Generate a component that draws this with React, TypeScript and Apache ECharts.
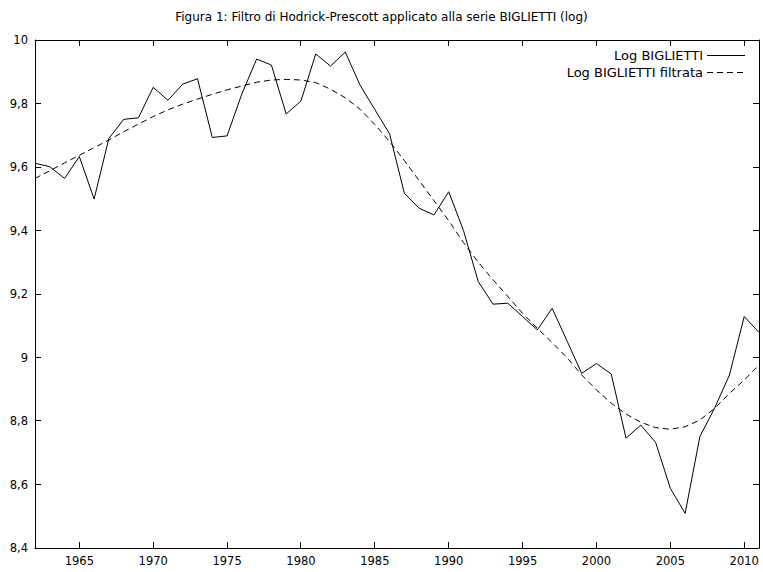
import React, { useEffect, useRef } from "react";
import * as echarts from "echarts";

const years: number[] = [
  1962, 1963, 1964, 1965, 1966, 1967, 1968, 1969, 1970, 1971,
  1972, 1973, 1974, 1975, 1976, 1977, 1978, 1979, 1980, 1981,
  1982, 1983, 1984, 1985, 1986, 1987, 1988, 1989, 1990, 1991,
  1992, 1993, 1994, 1995, 1996, 1997, 1998, 1999, 2000, 2001,
  2002, 2003, 2004, 2005, 2006, 2007, 2008, 2009, 2010, 2011,
];

const logBiglietti: number[] = [
  9.612, 9.601, 9.564, 9.633, 9.499, 9.69, 9.75, 9.755, 9.851, 9.81,
  9.861, 9.878, 9.693, 9.698, 9.83, 9.94, 9.921, 9.767, 9.808, 9.956,
  9.918, 9.962, 9.858, 9.781, 9.704, 9.517, 9.47, 9.449, 9.522, 9.4,
  9.239, 9.168, 9.171, 9.129, 9.087, 9.155, 9.053, 8.95, 8.981, 8.948,
  8.746, 8.787, 8.733, 8.588, 8.509, 8.751, 8.841, 8.945, 9.129, 9.079,
];

const logBigliettiFiltrata: number[] = [
  9.564, 9.588, 9.613, 9.637, 9.661, 9.685, 9.711, 9.735, 9.759, 9.78,
  9.798, 9.814, 9.829, 9.843, 9.855, 9.867, 9.874, 9.876, 9.874, 9.866,
  9.845, 9.818, 9.782, 9.734, 9.68, 9.62, 9.557, 9.494, 9.431, 9.362,
  9.3, 9.245, 9.192, 9.139, 9.092, 9.047, 9.0, 8.945, 8.898, 8.856,
  8.822, 8.796, 8.779, 8.774, 8.782, 8.803, 8.84, 8.887, 8.929, 8.976,
];

const xTicks: number[] = [1965, 1970, 1975, 1980, 1985, 1990, 1995, 2000, 2005, 2010];
const yTicks: number[] = [8.6, 8.8, 9, 9.2, 9.4, 9.6, 9.8];

const titleText = "Figura 1: Filtro di Hodrick-Prescott applicato alla serie BIGLIETTI (log)";
const seriesNames: string[] = ["Log BIGLIETTI", "Log BIGLIETTI filtrata"];

const FONT = "DejaVu Sans, Verdana, sans-serif";
const X_MIN = 1962;
const X_MAX = 2011;
const Y_MIN = 8.4;
const Y_MAX = 10;
const TICK = 6;

export default function App() {
  const ref = useRef<HTMLDivElement>(null);

  useEffect(() => {
    if (!ref.current) return;
    const chart = echarts.init(ref.current, undefined, { renderer: "svg" });
    const fmtY = (v: number) => String(Math.round(v * 10) / 10).replace(".", ",");
    const axisLine = { show: true, lineStyle: { color: "#000", width: 1 } };
    const crisp = (v: number) => Math.floor(v) + 0.5;

    // tick marks: x ticks on bottom/top, y ticks on left/right, drawn via a custom series
    const tickData: number[][] = [
      ...xTicks.map((t) => [0, t]),
      ...yTicks.map((t) => [1, t]),
    ];

    chart.setOption({
      animation: false,
      backgroundColor: "#fff",
      title: {
        text: titleText,
        left: "center",
        top: 6,
        textStyle: { fontFamily: FONT, fontSize: 12, fontWeight: "normal", color: "#000" },
      },
      grid: { left: 35, top: 40, right: 4, bottom: 24, containLabel: false },
      xAxis: [
        {
          type: "value",
          min: X_MIN,
          max: X_MAX,
          position: "bottom",
          axisLine,
          splitLine: { show: false },
          axisTick: { show: false },
          axisLabel: {
            show: true,
            customValues: xTicks,
            formatter: (v: number) => String(v),
            margin: 7,
            fontFamily: FONT,
            fontSize: 11.5,
            color: "#000",
          },
        },
        {
          type: "value",
          min: X_MIN,
          max: X_MAX,
          position: "top",
          axisLine,
          splitLine: { show: false },
          axisTick: { show: false },
          axisLabel: { show: false },
        },
      ],
      yAxis: [
        {
          type: "value",
          min: Y_MIN,
          max: Y_MAX,
          interval: 0.2,
          position: "left",
          axisLine,
          splitLine: { show: false },
          axisTick: { show: false },
          axisLabel: {
            formatter: fmtY,
            margin: 7,
            fontFamily: FONT,
            fontSize: 11.5,
            color: "#000",
          },
        },
        {
          type: "value",
          min: Y_MIN,
          max: Y_MAX,
          interval: 0.2,
          position: "right",
          axisLine,
          splitLine: { show: false },
          axisTick: { show: false },
          axisLabel: { show: false },
        },
      ],
      series: [
        {
          name: "ticks",
          type: "custom",
          xAxisIndex: 0,
          yAxisIndex: 0,
          coordinateSystem: "cartesian2d",
          data: tickData,
          encode: { x: -1, y: -1 } as any,
          silent: true,
          clip: false,
          renderItem: (params: any, api: any) => {
            const kind = api.value(0);
            const v = api.value(1);
            let a: number[], b: number[], c: number[], d: number[];
            if (kind === 0) {
              const p = api.coord([v, Y_MIN]);
              const q = api.coord([v, Y_MAX]);
              const x = crisp(p[0]);
              a = [x, p[1]]; b = [x, p[1] - TICK];
              c = [x, q[1]]; d = [x, q[1] + TICK];
            } else {
              const p = api.coord([X_MIN, v]);
              const q = api.coord([X_MAX, v]);
              const y = crisp(p[1]);
              a = [p[0], y]; b = [p[0] + TICK, y];
              c = [q[0], y]; d = [q[0] - TICK, y];
            }
            return {
              type: "group",
              children: [
                { type: "line", shape: { x1: a[0], y1: a[1], x2: b[0], y2: b[1] }, style: { stroke: "#000", lineWidth: 1 } },
                { type: "line", shape: { x1: c[0], y1: c[1], x2: d[0], y2: d[1] }, style: { stroke: "#000", lineWidth: 1 } },
              ],
            };
          },
          z: 5,
        },
        {
          name: seriesNames[0],
          type: "line",
          xAxisIndex: 0,
          yAxisIndex: 0,
          data: years.map((y, i) => [y, logBiglietti[i]]),
          showSymbol: false,
          symbol: "none",
          lineStyle: { color: "#000", width: 1 },
          z: 3,
        },
        {
          name: seriesNames[1],
          type: "line",
          xAxisIndex: 0,
          yAxisIndex: 0,
          data: years.map((y, i) => [y, logBigliettiFiltrata[i]]),
          showSymbol: false,
          symbol: "none",
          lineStyle: { color: "#000", width: 1, type: [6, 4] },
          z: 2,
        },
      ],
      graphic: [
        {
          type: "text",
          x: 703,
          y: 55,
          style: {
            text: seriesNames[0],
            fontFamily: FONT,
            fontSize: 13,
            fill: "#000",
            textAlign: "right",
            textVerticalAlign: "middle",
          },
        },
        {
          type: "line",
          shape: { x1: 707, y1: 55.5, x2: 745, y2: 55.5 },
          style: { stroke: "#000", lineWidth: 1 },
        },
        {
          type: "text",
          x: 703,
          y: 72,
          style: {
            text: seriesNames[1],
            fontFamily: FONT,
            fontSize: 13,
            fill: "#000",
            textAlign: "right",
            textVerticalAlign: "middle",
          },
        },
        {
          type: "line",
          shape: { x1: 707, y1: 72.5, x2: 745, y2: 72.5 },
          style: { stroke: "#000", lineWidth: 1, lineDash: [6, 4] },
        },
      ],
    });

    return () => chart.dispose();
  }, []);

  return <div ref={ref} style={{ width: 763, height: 572, position: "absolute", left: 0, top: 0 }} />;
}
